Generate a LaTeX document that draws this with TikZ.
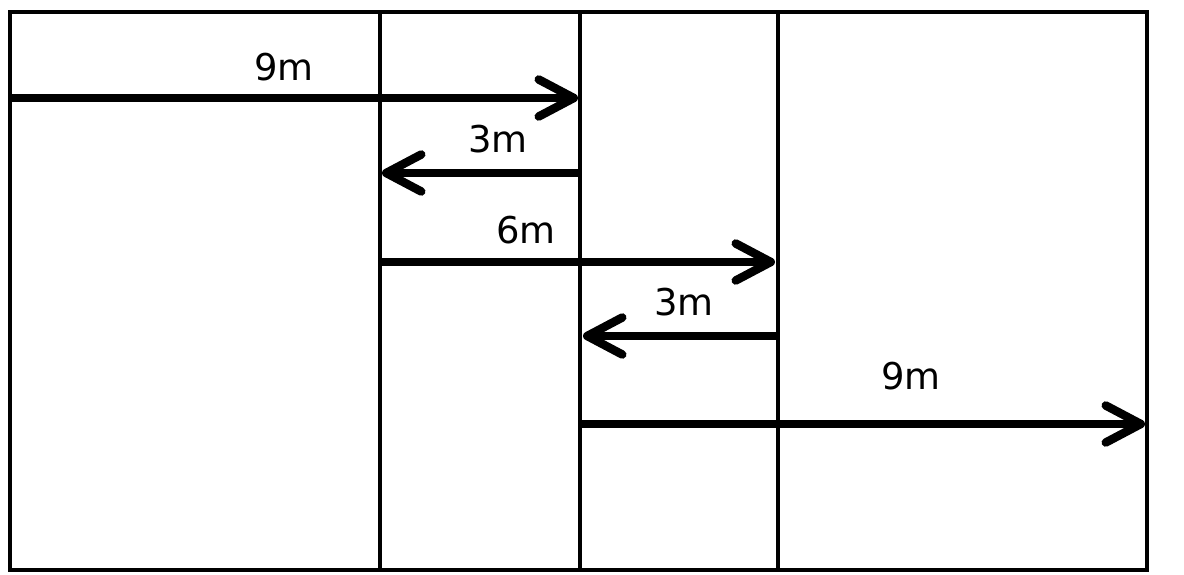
\documentclass[tikz,border=0pt]{standalone}
\usepackage{fontspec}
\setmainfont{DejaVu Sans}
\usepackage{tikz}
\usetikzlibrary{arrows.meta}
\pgfdeclarelayer{edgelayer}
\pgfdeclarelayer{nodelayer}
\pgfsetlayers{edgelayer,nodelayer,main}
\tikzstyle{none}=[inner sep=0pt]
\tikzstyle{dimtext}=[inner sep=0pt, font=\fontsize{21}{25}\selectfont]
\tikzstyle{wall}=[line width=0.075cm]
\tikzstyle{move}=[line width=0.17cm, -{Straight Barb[length=0.7cm, width=0.74cm, line cap=round, line join=round]}]

\begin{document}
\begin{tikzpicture}
					\useasboundingbox (0, 0) rectangle (23.68, 11.48);
					\begin{pgfonlayer}{nodelayer}
						\node [style=none] (0) at (0.2, 11.24) {};
						\node [style=none] (1) at (22.94, 0.08) {};
						\node [style=none] (2) at (7.6, 11.24) {};
						\node [style=none] (3) at (7.6, 0.08) {};
						\node [style=none] (4) at (11.6, 11.24) {};
						\node [style=none] (5) at (11.6, 0.08) {};
						\node [style=none] (6) at (15.56, 11.24) {};
						\node [style=none] (7) at (15.56, 0.08) {};
						\node [style=none] (8) at (0.2, 9.52) {};
						\node [style=none] (9) at (11.56, 9.52) {};
						\node [style=none] (10) at (11.6, 8.02) {};
						\node [style=none] (11) at (7.64, 8.02) {};
						\node [style=none] (12) at (7.6, 6.24) {};
						\node [style=none] (13) at (15.5, 6.24) {};
						\node [style=none] (14) at (15.56, 4.76) {};
						\node [style=none] (15) at (11.66, 4.76) {};
						\node [style=none] (16) at (11.6, 3.0) {};
						\node [style=none] (17) at (22.9, 3.0) {};
						\node [style=dimtext] (18) at (5.68, 10.14) {9m};
						\node [style=dimtext] (19) at (9.96, 8.7) {3m};
						\node [style=dimtext] (20) at (10.52, 6.88) {6m};
						\node [style=dimtext] (21) at (13.68, 5.44) {3m};
						\node [style=dimtext] (22) at (18.22, 3.96) {9m};
					\end{pgfonlayer}
					\begin{pgfonlayer}{edgelayer}
						\draw [style=wall] (0.center) rectangle (1.center);
						\draw [style=wall] (2.center) to (3.center);
						\draw [style=wall] (4.center) to (5.center);
						\draw [style=wall] (6.center) to (7.center);
						\draw [style=move] (8.center) to (9.center);
						\draw [style=move] (10.center) to (11.center);
						\draw [style=move] (12.center) to (13.center);
						\draw [style=move] (14.center) to (15.center);
						\draw [style=move] (16.center) to (17.center);
					\end{pgfonlayer}
\end{tikzpicture}
\end{document}
